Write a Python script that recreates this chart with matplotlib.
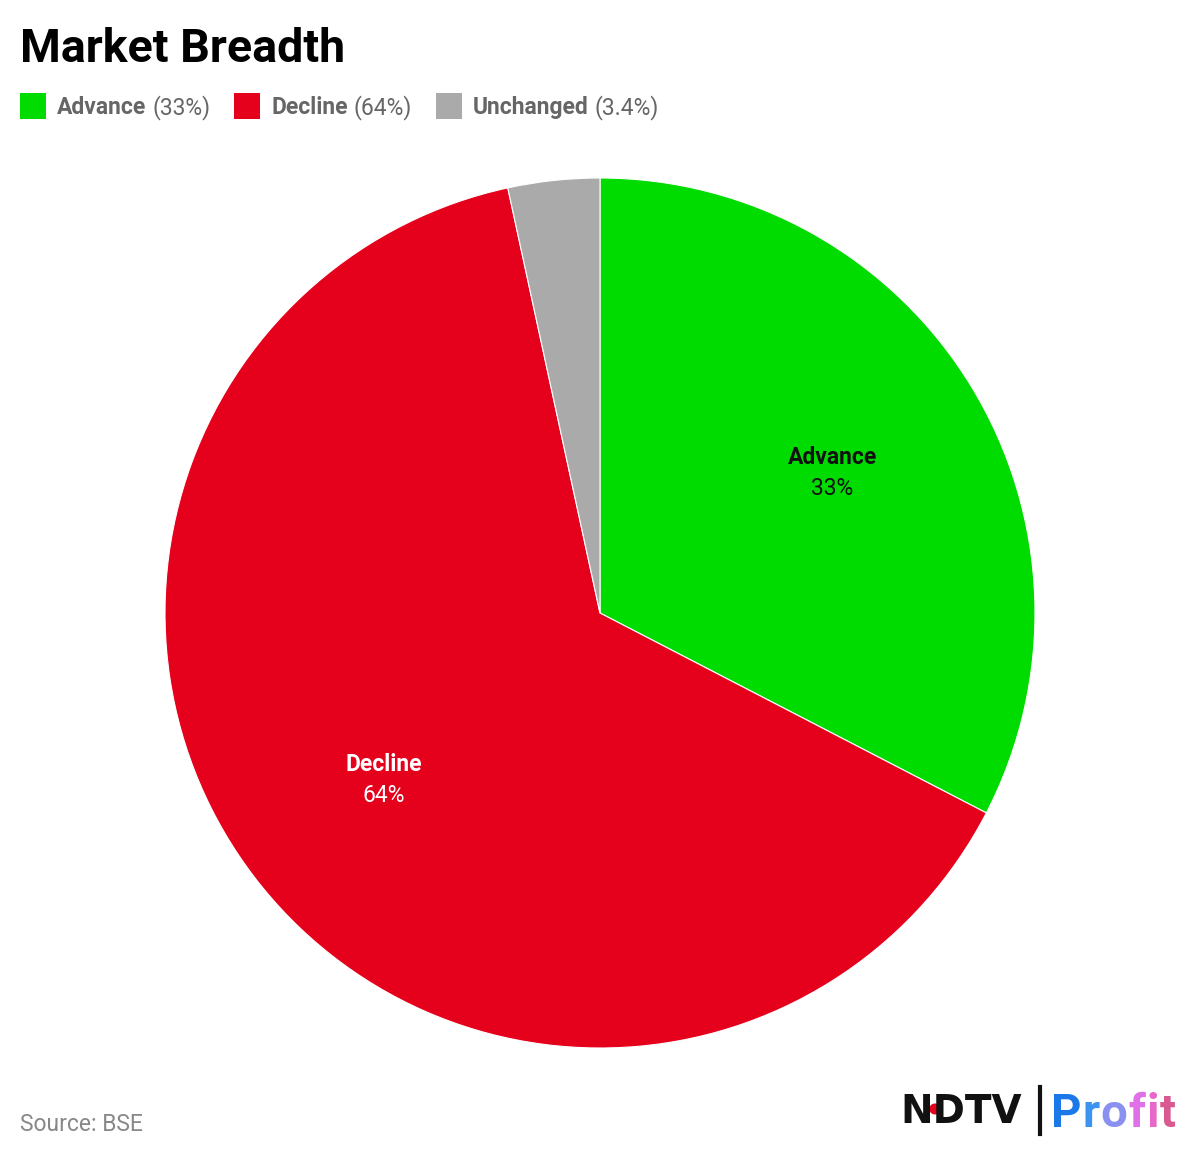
import numpy as np
import matplotlib.pyplot as plt

plt.rcParams['font.family'] = ['Roboto', 'DejaVu Sans']

# data
labels = ['Advance', 'Decline', 'Unchanged']
values = [32.6, 64.0, 3.4]
pct_text = ['33%', '64%', '3.4%']
colors = ['#00dc00', '#e5001c', '#aaaaaa']
label_colors = ['#111111', '#ffffff', '#333333']

W, H = 1200, 1155
fig = plt.figure(figsize=(W / 100, H / 100), dpi=100)

# pie axes placed in pixel terms: center (600, 613), radius 435
ax = fig.add_axes([165 / W, (H - 1048) / H, 870 / W, 870 / H])
wedges, _ = ax.pie(values, colors=colors, startangle=90, counterclock=False,
                   radius=1, wedgeprops=dict(edgecolor='white', linewidth=0.8))
ax.set_xlim(-1, 1)
ax.set_ylim(-1, 1)
ax.set_aspect('equal')
ax.axis('off')

# in-slice labels (skip tiny slice)
for w, lab, pt, c, v in zip(wedges, labels, pct_text, label_colors, values):
    if v < 10:
        continue
    ang = np.deg2rad((w.theta1 + w.theta2) / 2)
    x, y = 0.625 * np.cos(ang), 0.625 * np.sin(ang)
    ax.text(x, y + 0.005, lab, ha='center', va='bottom', fontsize=16.5,
            fontweight='bold', color=c)
    ax.text(x, y - 0.012, pt, ha='center', va='top', fontsize=16.5, color=c)

# title
fig.text(20 / W, 1 - 62 / H, 'Market Breadth', fontsize=33.5, fontweight='bold',
         color='#000000', ha='left', va='baseline')

# legend
lx = 20
for lab, pt, c in zip(labels, pct_text, colors):
    fig.patches.append(plt.Rectangle((lx / W, 1 - 119 / H), 26 / W, 26 / H,
                                     transform=fig.transFigure, facecolor=c,
                                     edgecolor='none'))
    t1 = fig.text((lx + 37) / W, 1 - 114 / H, lab, fontsize=16.5, fontweight='bold',
                  color='#666666', ha='left', va='baseline')
    fig.canvas.draw()
    bb = t1.get_window_extent()
    t2 = fig.text((bb.x1 + 6) / W, 1 - 114 / H, '(' + pt + ')', fontsize=16.5,
                  color='#666666', ha='left', va='baseline')
    fig.canvas.draw()
    bb2 = t2.get_window_extent()
    lx = bb2.x1 + 24

# source
fig.text(20 / W, 1 - 1131 / H, 'Source: BSE', fontsize=16.5, color='#888888',
         ha='left', va='baseline')

# logo
fig.text(900 / W, 1 - 1123 / H, 'NDTV', fontsize=28, fontweight='black',
         color='#111111', ha='left', va='baseline', family='DejaVu Sans')
fig.patches.append(plt.Circle((935 / W, 1 - 1109 / H), 5 / W,
                              transform=fig.transFigure, color='#e5001c'))
fig.lines.append(plt.Line2D([1040 / W, 1040 / W], [1 - 1087 / H, 1 - 1134 / H],
                            transform=fig.transFigure, color='#111111', lw=3))
px = 1051
for ch, c in zip('Profit', ['#1a78e8', '#3a94f0', '#8a90f0', '#e070e8', '#e868c8', '#d85a90']):
    t = fig.text(px / W, 1 - 1127 / H, ch, fontsize=34, fontweight='bold',
                 color=c, ha='left', va='baseline')
    fig.canvas.draw()
    px = t.get_window_extent().x1 + 1

fig.savefig('out.png', dpi=100, facecolor='white')
